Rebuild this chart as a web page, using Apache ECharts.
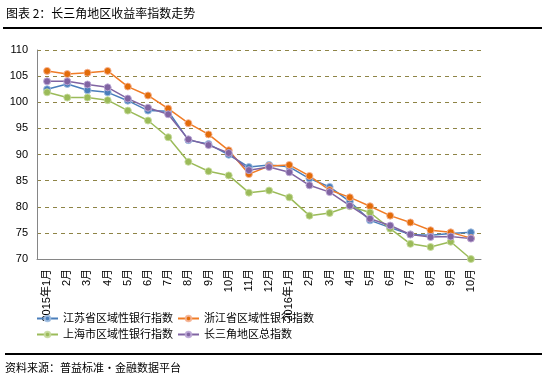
<!DOCTYPE html>
<html><head><meta charset="utf-8">
<script src="https://cdn.jsdelivr.net/npm/echarts@6/dist/echarts.min.js"></script>
<style>html,body{margin:0;padding:0;background:#fff}#c{width:548px;height:387px}</style>
</head><body><div id="c"></div>
<script>
var categories = ['2015年1月','2月','3月','4月','5月','6月','7月','8月','9月','10月','11月','12月',
  '2016年1月','2月','3月','4月','5月','6月','7月','8月','9月','10月'];
var seriesNames = ['江苏省区域性银行指数','浙江省区域性银行指数','上海市区域性银行指数','长三角地区总指数'];
var jiangsu = [102.5,103.5,102.3,101.9,100.3,98.4,98.3,92.75,92.0,89.95,87.6,88.0,87.65,85.4,83.8,81.0,77.4,76.0,74.7,74.55,74.9,75.1];
var zhejiang = [106.0,105.4,105.65,106.0,103.0,101.3,98.8,96.0,93.85,90.8,86.25,87.8,88.0,85.9,83.2,81.8,80.1,78.3,77.0,75.5,75.1,74.0];
var shanghai = [101.9,100.9,100.9,100.4,98.4,96.5,93.3,88.6,86.8,86.0,82.7,83.1,81.8,78.3,78.8,80.1,78.9,75.8,72.9,72.3,73.3,70.0];
var yangtze = [104.0,104.0,103.4,102.85,100.7,98.95,97.7,92.9,91.8,90.3,87.0,87.6,86.6,84.1,82.8,80.2,77.7,76.4,74.7,74.2,74.3,73.9];
var yTicks = {min:70, max:110, interval:5};
var colors = ['#4A7EBB','#F07C26','#9BBB59','#8064A2'];
var markerColors = ['#4A7EBB','#E36C09','#9BBB59','#8064A2'];
var borderColors = ['rgba(160,190,225,0.9)','rgba(245,180,150,0.9)','rgba(200,220,160,0.9)','rgba(190,170,215,0.9)'];

var FONT = '"Liberation Sans","Noto Sans CJK SC",sans-serif';
var chart = echarts.init(document.getElementById('c'));
function mk(i, data){
  return {name:seriesNames[i], type:'line', data:data, symbol:'circle', symbolSize:7,
    lineStyle:{color:colors[i], width:1.5},
    itemStyle:{color:markerColors[i], borderColor:borderColors[i], borderWidth:1},
    emphasis:{disabled:true}, animation:false};
}
var legendBase = {left:36, itemWidth:21, itemHeight:7, itemGap:4, padding:0,
  textStyle:{fontSize:11, color:'#000', fontFamily:FONT}};
chart.setOption({
  animation:false,
  color:colors,
  grid:{left:37, right:67, top:50, bottom:128, containLabel:false},
  xAxis:{type:'category', data:categories, boundaryGap:true,
    axisLine:{lineStyle:{color:'#868686', width:1}}, axisTick:{show:false},
    axisLabel:{rotate:90, interval:0, fontSize:11, color:'#000', fontFamily:FONT, margin:10}},
  yAxis:{type:'value', min:yTicks.min, max:yTicks.max, interval:yTicks.interval,
    axisLine:{show:true, lineStyle:{color:'#868686'}}, axisTick:{show:false},
    axisLabel:{fontSize:11, color:'#000', fontFamily:FONT, margin:9},
    splitLine:{lineStyle:{color:'#8E8446', type:[4,4], width:1}}},
  legend:[
    Object.assign({data:[seriesNames[0],seriesNames[1]], top:313}, legendBase),
    Object.assign({data:[seriesNames[2],seriesNames[3]], top:329}, legendBase)
  ],
  graphic:[
    {type:'text', left:6, top:7, style:{text:'图表 2：长三角地区收益率指数走势', font:'12px "Noto Sans CJK SC",sans-serif', fill:'#000'}},
    {type:'line', shape:{x1:3, y1:28, x2:542, y2:28}, style:{stroke:'#000', lineWidth:2}},
    {type:'line', shape:{x1:5, y1:354, x2:542, y2:354}, style:{stroke:'#000', lineWidth:2}},
    {type:'text', left:5, top:362, style:{text:'资料来源：普益标准·金融数据平台', font:'11px "Noto Sans CJK SC",sans-serif', fill:'#000'}}
  ],
  series:[mk(0,jiangsu), mk(1,zhejiang), mk(2,shanghai), mk(3,yangtze)]
});
</script></body></html>
